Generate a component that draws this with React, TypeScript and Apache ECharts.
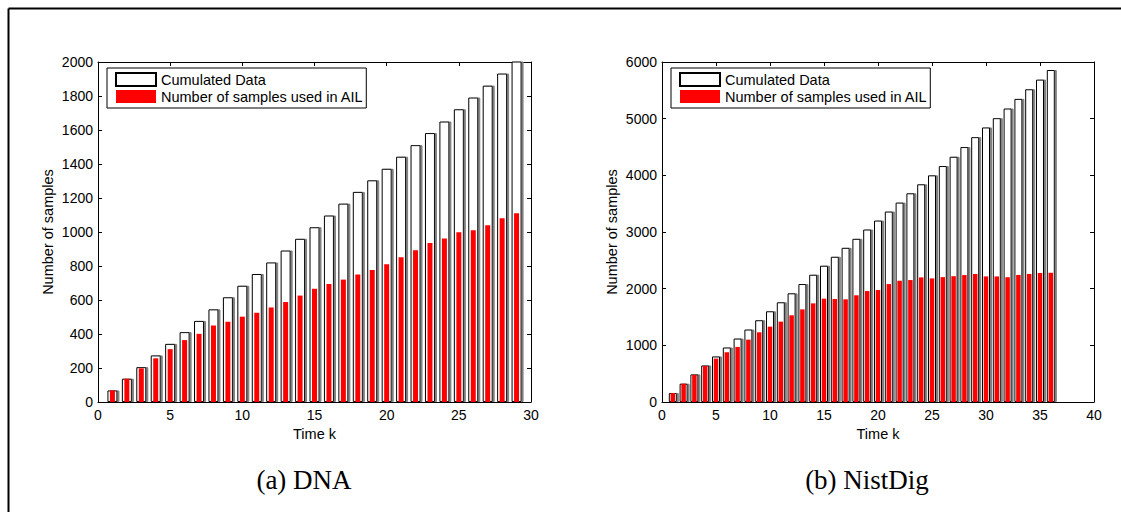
import React, { useEffect, useRef } from "react";
import * as echarts from "echarts";

// ---- Data ----
const dnaTime = [1, 2, 3, 4, 5, 6, 7, 8, 9, 10, 11, 12, 13, 14, 15, 16, 17, 18, 19, 20, 21, 22, 23, 24, 25, 26, 27, 28, 29];
const dnaCumulated = [68, 137, 205, 274, 342, 411, 477, 545, 616, 684, 753, 821, 891, 960, 1028, 1097, 1167, 1236, 1304, 1372, 1443, 1511, 1582, 1650, 1722, 1791, 1861, 1932, 2003];
const dnaAIL = [68, 137, 198, 257, 311, 364, 401, 450, 472, 502, 525, 556, 588, 626, 666, 694, 720, 750, 777, 810, 851, 892, 935, 962, 999, 1011, 1039, 1081, 1111];

const nistTime = [1, 2, 3, 4, 5, 6, 7, 8, 9, 10, 11, 12, 13, 14, 15, 16, 17, 18, 19, 20, 21, 22, 23, 24, 25, 26, 27, 28, 29, 30, 31, 32, 33, 34, 35, 36];
const nistCumulated = [158, 323, 487, 645, 804, 962, 1120, 1279, 1443, 1601, 1760, 1918, 2082, 2246, 2405, 2563, 2721, 2880, 3044, 3202, 3361, 3519, 3683, 3842, 4000, 4164, 4328, 4499, 4674, 4845, 5009, 5179, 5349, 5519, 5689, 5859];
const nistAIL = [158, 323, 478, 636, 766, 878, 972, 1101, 1230, 1330, 1418, 1530, 1635, 1741, 1824, 1818, 1812, 1883, 1958, 1976, 2081, 2140, 2152, 2199, 2181, 2204, 2220, 2240, 2260, 2216, 2216, 2202, 2243, 2261, 2278, 2281];

const legendNames = ["Cumulated Data", "Number of samples used in AIL"];
const captions = ["(a) DNA", "(b) NistDig"];
const xLabel = "Time k";
const yLabel = "Number of samples";

const FONT = "'Liberation Sans', Arial, Helvetica, sans-serif";
const SERIF = "'Liberation Serif', 'Times New Roman', Times, serif";

type Panel = {
  time: number[];
  cum: number[];
  ail: number[];
  xMax: number;
  yMax: number;
  yInterval: number;
  grid: { left: number; top: number; width: number; height: number };
  legendLeft: number;
  whiteWidth: number;
  redWidth: number;
  captionX: number;
};

const panels: Panel[] = [
  {
    time: dnaTime, cum: dnaCumulated, ail: dnaAIL, xMax: 30, yMax: 2000, yInterval: 200,
    grid: { left: 98, top: 62, width: 433, height: 340 }, legendLeft: 107,
    whiteWidth: 10, redWidth: 5, captionX: 304,
  },
  {
    time: nistTime, cum: nistCumulated, ail: nistAIL, xMax: 40, yMax: 6000, yInterval: 1000,
    grid: { left: 662, top: 62, width: 432, height: 340 }, legendLeft: 671,
    whiteWidth: 8, redWidth: 4.5, captionX: 867,
  },
];

function buildOption() {
  const grid: any[] = [];
  const xAxis: any[] = [];
  const yAxis: any[] = [];
  const series: any[] = [];
  const legend: any[] = [];
  const graphic: any[] = [];

  const axisLine = { show: true, onZero: false, lineStyle: { color: "#000", width: 1 } };
  const axisTick = { show: true, inside: true, length: 4, lineStyle: { color: "#000", width: 1 } };
  const labelStyle = { color: "#000", fontSize: 14, fontFamily: FONT, formatter: (v: number) => String(v) };

  panels.forEach((p, g) => {
    grid.push({ ...p.grid, containLabel: false });
    xAxis.push({
      type: "value", gridIndex: g, position: "bottom", min: 0, max: p.xMax, interval: 5,
      axisLine, axisTick, splitLine: { show: false },
      axisLabel: { ...labelStyle, margin: 6 },
      name: xLabel, nameLocation: "middle", nameGap: 22,
      nameTextStyle: { color: "#000", fontSize: 14.5, fontFamily: FONT },
    });
    xAxis.push({
      type: "value", gridIndex: g, position: "top", min: 0, max: p.xMax, interval: 5,
      axisLine, axisTick, splitLine: { show: false }, axisLabel: { show: false },
    });
    yAxis.push({
      type: "value", gridIndex: g, position: "left", min: 0, max: p.yMax, interval: p.yInterval,
      axisLine, axisTick, splitLine: { show: false },
      axisLabel: { ...labelStyle, margin: 5 },
      name: yLabel, nameLocation: "middle", nameGap: 43,
      nameTextStyle: { color: "#000", fontSize: 14.5, fontFamily: FONT },
    });
    yAxis.push({
      type: "value", gridIndex: g, position: "right", min: 0, max: p.yMax, interval: p.yInterval,
      axisLine, axisTick, splitLine: { show: false }, axisLabel: { show: false },
    });

    series.push({
      name: legendNames[0], type: "bar", xAxisIndex: 2 * g, yAxisIndex: 2 * g,
      data: p.time.map((t, i) => [t, p.cum[i]]),
      barWidth: p.whiteWidth, clip: true,
      itemStyle: {
        color: "#ffffff", borderColor: "#000", borderWidth: 1,
        shadowColor: "#808080", shadowOffsetX: 2, shadowOffsetY: 0, shadowBlur: 0,
      },
      emphasis: { disabled: true },
    });
    series.push({
      name: legendNames[1], type: "bar", xAxisIndex: 2 * g + 1, yAxisIndex: 2 * g,
      data: p.time.map((t, i) => [t, p.ail[i]]),
      barWidth: p.redWidth, clip: true,
      itemStyle: { color: "#ff0000" },
      emphasis: { disabled: true },
    });

    legend.push({
      left: p.legendLeft, top: 68, orient: "vertical", data: legendNames,
      icon: "rect", itemWidth: 40, itemHeight: 13, itemGap: 2,
      padding: [4, 3, 4, 8], borderColor: "#000", borderWidth: 1, backgroundColor: "#fff",
      selectedMode: false,
      itemStyle: { shadowBlur: 0, shadowOffsetX: 0, shadowColor: "transparent" },
      textStyle: { color: "#000", fontSize: 14.5, fontFamily: FONT },
    });

    graphic.push({
      type: "text", x: p.captionX, y: 480,
      style: {
        text: captions[g], font: `27px ${SERIF}`, fill: "#000",
        textAlign: "center", textVerticalAlign: "middle",
      },
    });
  });

  graphic.push({ type: "line", shape: { x1: 8.5, y1: 8.5, x2: 1121, y2: 8.5 }, style: { stroke: "#000", lineWidth: 2 } });
  graphic.push({ type: "line", shape: { x1: 8.5, y1: 8.5, x2: 8.5, y2: 512 }, style: { stroke: "#000", lineWidth: 2 } });

  return {
    animation: false,
    backgroundColor: "#ffffff",
    textStyle: { fontFamily: FONT },
    grid, xAxis, yAxis, series, legend, graphic,
  };
}

export default function App() {
  const ref = useRef<HTMLDivElement>(null);
  useEffect(() => {
    if (!ref.current) return;
    const chart = echarts.init(ref.current, null, { renderer: "svg" });
    chart.setOption(buildOption() as any);
    return () => chart.dispose();
  }, []);
  return (
    <div
      ref={ref}
      style={{ position: "fixed", left: 0, top: 0, width: 1121, height: 512, background: "#fff" }}
    />
  );
}
